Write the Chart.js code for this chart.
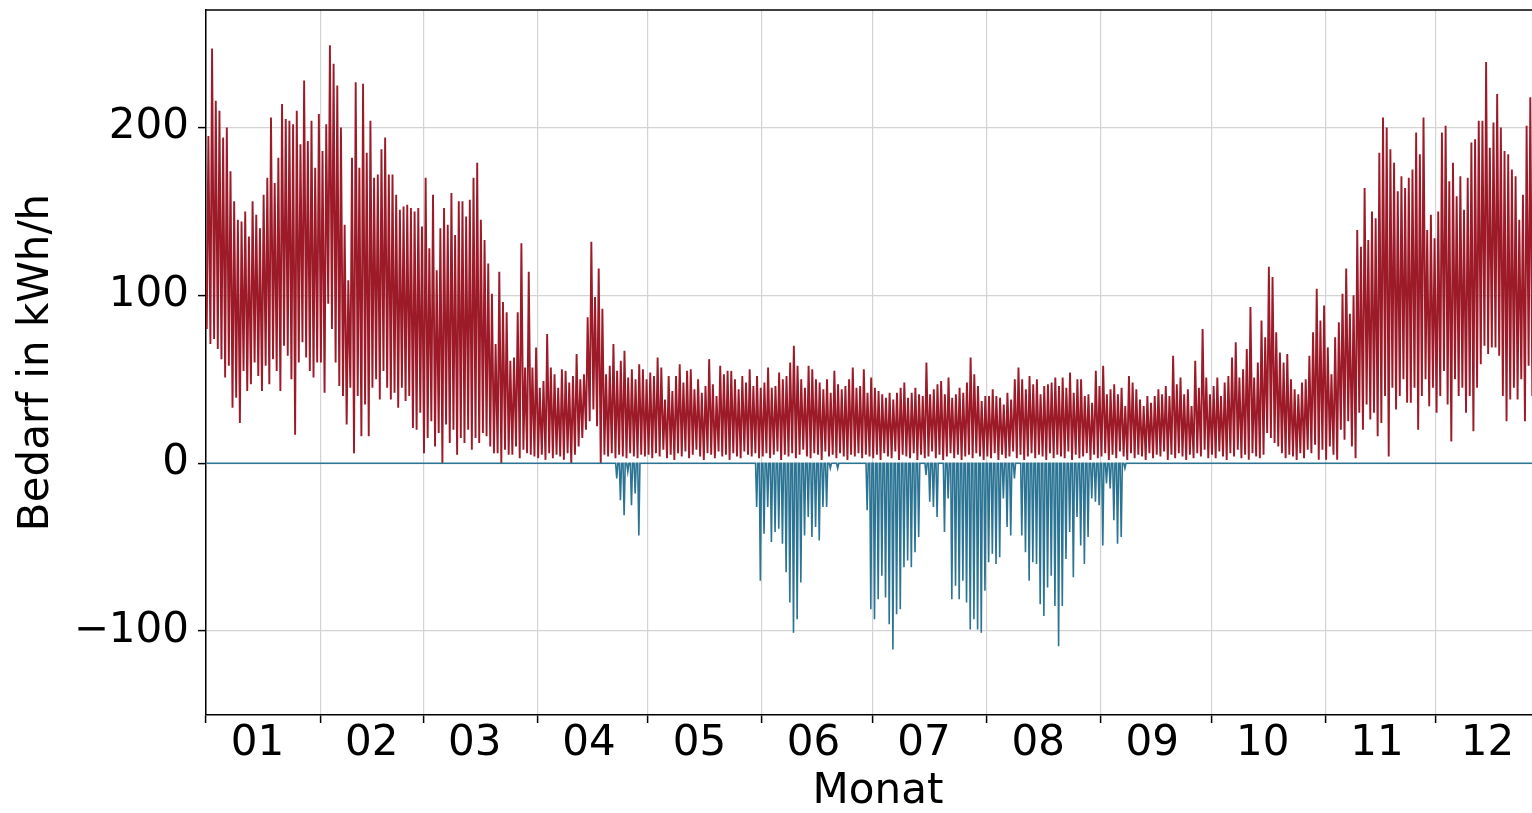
<!DOCTYPE html>
<html>
<head>
<meta charset="utf-8">
<script src="https://cdn.jsdelivr.net/npm/chart.js@4"></script>
<style>
  html, body { margin: 0; padding: 0; background: #fff; overflow: hidden; }
</style>
</head>
<body>
<canvas id="demandChart" width="1550" height="813"></canvas>
<script>
// month grid (day of year where each month starts) and the labels under it
const monthStarts = [0, 31, 59, 90, 120, 151, 181, 212, 243, 273, 304, 334];
const monthLabels = ['01', '02', '03', '04', '05', '06', '07', '08', '09', '10', '11', '12'];
const yTicks = [-100, 0, 100, 200];

// daily maximum of the demand (kWh/h), one value per day
const redHigh = [
  195,247,216,210,194,200,174,156,145,144,150,135,156,148,140,160,170,206,167,182,214,205,204,202,210,190,228,192,204,176,208,
  186,202,249,238,225,200,142,109,182,227,176,226,185,204,170,172,187,194,172,172,160,151,153,154,152,150,152,141,
  170,128,160,115,140,152,142,161,136,156,156,147,157,170,179,145,133,119,101,71,114,96,90,61,63,90,131,57,114,57,69,
  45,49,77,57,53,45,56,55,48,52,65,50,53,87,132,99,116,92,53,58,71,55,61,67,51,56,50,59,56,50,
  54,52,63,57,38,52,43,52,59,48,55,56,44,50,42,46,62,47,40,58,53,55,55,50,44,52,48,56,46,52,45,
  48,57,45,46,54,50,52,60,70,58,50,45,58,56,50,48,44,50,42,55,47,44,46,50,57,45,46,56,42,51,
  45,43,41,39,42,38,42,45,48,39,42,45,41,40,60,41,44,47,49,41,51,39,41,45,42,48,63,53,46,37,40,
  40,44,40,39,35,42,38,50,57,50,44,52,47,50,41,46,47,48,51,46,51,45,54,42,50,50,40,41,36,55,46,
  58,41,44,47,41,45,34,52,48,44,38,34,40,36,40,44,41,46,40,64,47,51,41,44,34,61,45,80,51,41,
  46,51,40,48,52,63,72,51,56,68,93,51,60,85,75,117,111,78,66,60,65,50,44,41,48,50,64,78,104,85,94,
  69,53,75,84,101,116,89,100,139,129,164,133,150,146,185,206,200,187,179,162,171,164,170,175,197,184,206,139,148,134,
  150,197,201,168,179,159,171,151,170,191,193,204,204,239,188,203,220,200,186,184,175,171,145,160,201,218,224
];

// daily minimum of the demand (kWh/h)
const redLow = [
  80,71,74,68,62,51,58,33,39,24,55,43,47,60,52,43,58,47,62,55,43,70,64,50,17,60,72,63,55,51,60,
  60,42,95,80,60,46,40,23,45,6,40,16,35,16,45,50,38,55,45,38,42,33,45,37,40,21,20,30,
  6,15,25,10,18,0,23,12,20,5,15,12,20,8,15,12,18,16,10,6,6,0,8,5,5,10,3,8,6,5,4,
  3,5,2,6,3,5,4,2,6,0,5,10,15,20,25,32,22,0,5,4,6,3,5,4,3,6,4,3,5,4,
  5,3,6,4,8,3,5,2,6,4,7,3,5,8,4,2,6,5,3,7,4,5,2,6,4,3,7,5,4,6,3,
  4,6,3,5,7,2,5,4,6,3,5,8,4,3,6,5,2,7,4,5,3,6,4,2,5,4,6,3,5,4,
  3,5,2,6,4,3,7,2,5,4,3,6,2,5,3,4,7,3,5,2,4,6,3,5,2,4,5,3,6,4,2,
  4,3,6,2,5,3,4,7,3,5,2,4,6,3,5,4,2,6,3,5,4,3,7,2,5,3,4,6,2,5,3,
  4,6,2,5,3,7,4,2,6,3,5,4,2,6,3,5,4,7,2,5,3,6,4,2,5,3,6,4,8,3,
  5,3,7,4,2,6,4,8,3,5,2,6,4,3,5,18,15,12,10,6,3,5,4,2,6,3,8,6,11,2,8,
  2,10,5,2,20,14,25,10,3,30,20,35,26,30,16,24,40,4,45,32,40,50,36,36,45,20,40,50,34,45,
  30,40,55,35,13,50,40,45,30,40,19,45,59,70,65,69,69,64,40,25,38,45,38,50,25,58,40
];

// days with surplus (negative demand) and the daily minimum on those days
const blueDay = [
  111,112,113,114,115,116,117,
  149,150,151,152,153,154,155,156,157,158,159,160,161,162,163,164,165,166,167,168,169,171,
  179,180,181,182,183,184,185,186,187,188,189,190,191,192,193,195,196,197,198,
  200,201,202,203,204,205,206,207,208,209,210,211,212,213,214,215,216,217,218,219,
  221,222,223,224,225,226,227,228,229,230,231,232,233,234,235,236,237,238,239,240,
  241,242,243,244,245,246,247,248,249
];
const blueValue = [
  -9,-22,-31,-5,-25,-18,-43,
  -26,-70,-42,-26,-47,-41,-39,-48,-65,-83,-101,-93,-71,-43,-32,-44,-38,-46,-26,-26,-3,-3,
  -28,-87,-93,-81,-67,-80,-96,-111,-90,-87,-62,-58,-62,-53,-44,-7,-23,-26,-32,
  -41,-21,-81,-73,-81,-70,-83,-99,-93,-99,-101,-76,-59,-54,-60,-56,-21,-38,-43,-9,
  -43,-53,-70,-59,-60,-84,-91,-74,-67,-85,-109,-85,-57,-41,-68,-32,-49,-60,-44,-21,
  -23,-25,-49,-12,-15,-34,-48,-44,-3
];

document.addEventListener('DOMContentLoaded', function() {
    const redPoints = [];
    const n = Math.min(redHigh.length, redLow.length);
    for (let d = 0; d < n; d++) {
        redPoints.push({ x: d + 0.2, y: redLow[d] });
        redPoints.push({ x: d + 0.65, y: redHigh[d] });
    }

    const bluePoints = [{ x: 0, y: 0 }];
    blueDay.forEach(function(d, i) {
        bluePoints.push({ x: d + 0.25, y: 0 }, { x: d + 0.55, y: blueValue[i] }, { x: d + 0.85, y: 0 });
    });
    bluePoints.push({ x: 365, y: 0 });

    // top spine like the matplotlib frame
    const frame = {
        id: 'frame',
        afterDatasetsDraw(chart) {
            const { ctx, chartArea } = chart;
            ctx.save();
            ctx.strokeStyle = '#000';
            ctx.lineWidth = 1.5;
            ctx.beginPath();
            ctx.moveTo(chartArea.left, chartArea.top);
            ctx.lineTo(chartArea.right, chartArea.top);
            ctx.stroke();
            ctx.restore();
        }
    };

    Chart.defaults.font.family = '"DejaVu Sans", sans-serif';
    Chart.defaults.color = '#000';

    const gridStyle = { color: '#d3d3d3', lineWidth: 1.2, tickLength: 8, tickColor: '#000', tickWidth: 1.5 };

    const ctx = document.getElementById('demandChart').getContext('2d');
    new Chart(ctx, {
        type: 'line',
        data: {
            datasets: [
                {
                    label: 'Überschuss',
                    data: bluePoints,
                    borderColor: '#2c7493',
                    borderWidth: 1.6,
                    pointRadius: 0,
                    xAxisID: 'x'
                },
                {
                    label: 'Bedarf',
                    data: redPoints,
                    borderColor: '#9d1a28',
                    borderWidth: 1.9,
                    pointRadius: 0,
                    xAxisID: 'x'
                }
            ]
        },
        options: {
            responsive: false,
            animation: false,
            events: [],
            layout: { padding: { top: 10, right: 0, left: 0, bottom: 0 } },
            elements: { line: { tension: 0 } },
            plugins: {
                legend: { display: false },
                tooltip: { enabled: false }
            },
            scales: {
                x: {
                    type: 'linear',
                    position: 'bottom',
                    weight: 0,
                    min: 0,
                    max: 365,
                    afterBuildTicks: function(axis) { axis.ticks = monthStarts.map(v => ({ value: v })); },
                    afterFit: function(axis) { axis.height = 8; axis.paddingLeft = 0; axis.paddingRight = 0; },
                    ticks: { display: false },
                    grid: gridStyle,
                    border: { color: '#000', width: 1.5 }
                },
                xMonth: {
                    type: 'linear',
                    position: 'bottom',
                    weight: 1,
                    min: 0,
                    max: 365,
                    afterBuildTicks: function(axis) { axis.ticks = monthStarts.map(v => ({ value: v + 14 })); },
                    afterFit: function(axis) { axis.height = 90; axis.paddingLeft = 0; axis.paddingRight = 0; },
                    ticks: {
                        autoSkip: false,
                        maxRotation: 0,
                        padding: 0,
                        font: { size: 42, lineHeight: 1 },
                        callback: (v, i) => monthLabels[i]
                    },
                    grid: { display: false, drawTicks: false },
                    border: { display: false },
                    title: { display: true, text: 'Monat', font: { size: 42, lineHeight: 1 }, padding: 0 }
                },
                y: {
                    min: -150,
                    max: 270,
                    afterBuildTicks: function(axis) { axis.ticks = yTicks.map(v => ({ value: v })); },
                    afterFit: function(axis) { axis.width = 206; axis.paddingTop = 0; axis.paddingBottom = 0; },
                    ticks: {
                        padding: 9,
                        font: { size: 42 },
                        callback: v => v < 0 ? '\u2212' + Math.abs(v) : String(v)
                    },
                    grid: gridStyle,
                    border: { color: '#000', width: 1.5 },
                    title: {
                        display: true,
                        text: 'Bedarf in kWh/h',
                        font: { size: 42, lineHeight: 1.2 },
                        padding: { top: 12, bottom: 0 }
                    }
                }
            }
        },
        plugins: [frame]
    });
});
</script>
</body>
</html>
